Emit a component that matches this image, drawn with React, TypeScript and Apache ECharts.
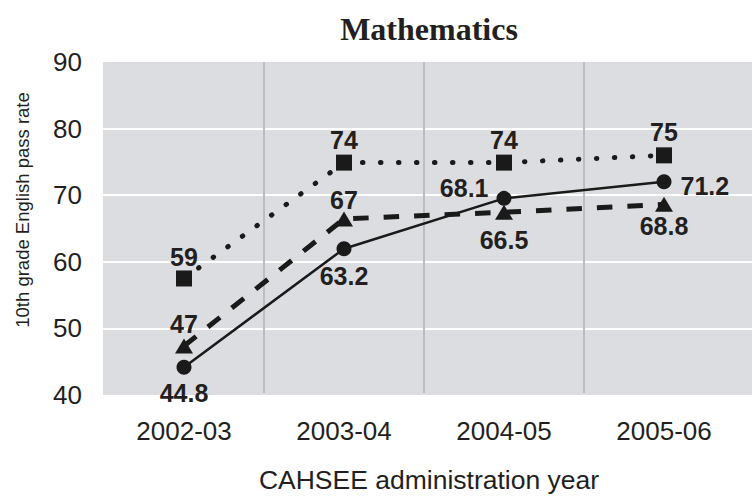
import React, { useEffect, useRef } from "react";
import * as echarts from "echarts";

const categories = ["2002-03", "2003-04", "2004-05", "2005-06"];
const yTicks = [40, 50, 60, 70, 80, 90];

const squareValues = [57.3, 74.8, 74.8, 75.9];
const squareLabels = ["59", "74", "74", "75"];

const triangleValues = [47.1, 66.3, 67.3, 68.5];
const triangleLabels = ["47", "67", "66.5", "68.8"];

const circleValues = [43.9, 61.8, 69.4, 71.9];
const circleLabels = ["44.8", "63.2", "68.1", "71.2"];

const NARROW = "'Liberation Sans Narrow','Arial Narrow','Liberation Sans',Arial,sans-serif";
const INK = "#231f20";

export default function App() {
  const ref = useRef<HTMLDivElement>(null);
  useEffect(() => {
    if (!ref.current) return;
    const chart = echarts.init(ref.current, undefined, { renderer: "svg" });
    const labelBase = {
      show: true,
      fontFamily: NARROW,
      fontWeight: "bold" as const,
      fontSize: 25,
      color: INK,
    };
    const sqPos = [
      { position: "top", distance: 1 },
      { position: "top", distance: 2 },
      { position: "top", distance: 2 },
      { position: "top", distance: 3 },
    ];
    const triPos = [
      { position: "top", distance: 2 },
      { position: "top", distance: -1 },
      { position: "bottom", distance: 8 },
      { position: "bottom", distance: 2 },
    ];
    const cirPos = [
      { position: "bottom", distance: 6 },
      { position: "bottom", distance: 7 },
      { position: "left", distance: 8, offset: [0, -10] },
      { position: "right", distance: 9, offset: [0, 4] },
    ];
    const mk = (vals: number[], labels: string[], pos: any[]) =>
      vals.map((v, i) => ({
        value: v,
        label: { ...labelBase, ...pos[i], formatter: () => labels[i] },
      }));

    chart.setOption({
      animation: false,
      title: {
        text: "Mathematics",
        left: 424,
        top: 8,
        textAlign: "center",
        textStyle: {
          fontFamily: "'Liberation Serif','DejaVu Serif',serif",
          fontWeight: "bold",
          fontSize: 32,
          color: INK,
        },
      },
      grid: [
        {
          left: 103,
          right: 0,
          top: 62,
          bottom: 103,
          show: true,
          backgroundColor: "#dcdde0",
          borderWidth: 0,
        },
        { left: 104, width: 640, top: 62, bottom: 103 },
      ],
      xAxis: [
        { type: "category", gridIndex: 0, data: categories, show: false },
        {
          type: "category",
          gridIndex: 1,
          data: categories,
          boundaryGap: true,
          axisLine: { show: false },
          axisTick: { show: false },
          axisLabel: { fontFamily: NARROW, fontSize: 26, color: INK, margin: 25 },
          splitLine: {
            show: true,
            showMinLine: false,
            showMaxLine: false,
            lineStyle: { color: "#bcbdc0", width: 2 },
          },
          name: "CAHSEE administration year",
          nameLocation: "middle",
          nameGap: 73,
          nameTextStyle: { fontFamily: NARROW, fontSize: 26.5, color: INK, padding: [0, 0, 0, 10] },
        },
      ],
      yAxis: [
        {
          type: "value",
          gridIndex: 0,
          min: yTicks[0],
          max: yTicks[yTicks.length - 1],
          interval: 10,
          axisLine: { show: false },
          axisTick: { show: false },
          axisLabel: { fontFamily: NARROW, fontSize: 26, color: INK, margin: 21 },
          splitLine: {
            show: true,
            showMinLine: false,
            showMaxLine: false,
            lineStyle: { color: "#ffffff", width: 2 },
          },
        },
        {
          type: "value",
          gridIndex: 1,
          min: yTicks[0],
          max: yTicks[yTicks.length - 1],
          interval: 10,
          show: false,
          splitLine: { show: false },
        },
      ],
      graphic: [
        {
          type: "text",
          x: 22,
          y: 210,
          rotation: Math.PI / 2,
          style: {
            text: "10th grade English pass rate",
            fontFamily: NARROW,
            fontSize: 18.5,
            fill: INK,
            textAlign: "center",
            textVerticalAlign: "middle",
          },
        },
      ],
      series: [
        {
          name: "Solid (circle)",
          type: "line",
          xAxisIndex: 1,
          yAxisIndex: 1,
          symbol: "circle",
          symbolSize: 15,
          lineStyle: { color: "#1a1a1a", width: 2.5 },
          itemStyle: { color: "#1a1a1a" },
          data: mk(circleValues, circleLabels, cirPos),
          z: 3,
        },
        {
          name: "Dashed (triangle)",
          type: "line",
          xAxisIndex: 1,
          yAxisIndex: 1,
          symbol: "triangle",
          symbolSize: [18, 15],
          lineStyle: { color: "#1a1a1a", width: 5, type: [15.5, 15] },
          itemStyle: { color: "#1a1a1a" },
          data: mk(triangleValues, triangleLabels, triPos),
          z: 2,
        },
        {
          name: "Dotted (square)",
          type: "line",
          xAxisIndex: 1,
          yAxisIndex: 1,
          symbol: "rect",
          symbolSize: 16,
          lineStyle: { color: "#1a1a1a", width: 5, type: [0.5, 17.5], cap: "round" },
          itemStyle: { color: "#1a1a1a" },
          data: mk(squareValues, squareLabels, sqPos),
          z: 2,
        },
      ],
    });
    return () => chart.dispose();
  }, []);
  return (
    <div
      ref={ref}
      style={{ position: "fixed", left: 0, top: 0, width: 752, height: 498, background: "#fff" }}
    />
  );
}
